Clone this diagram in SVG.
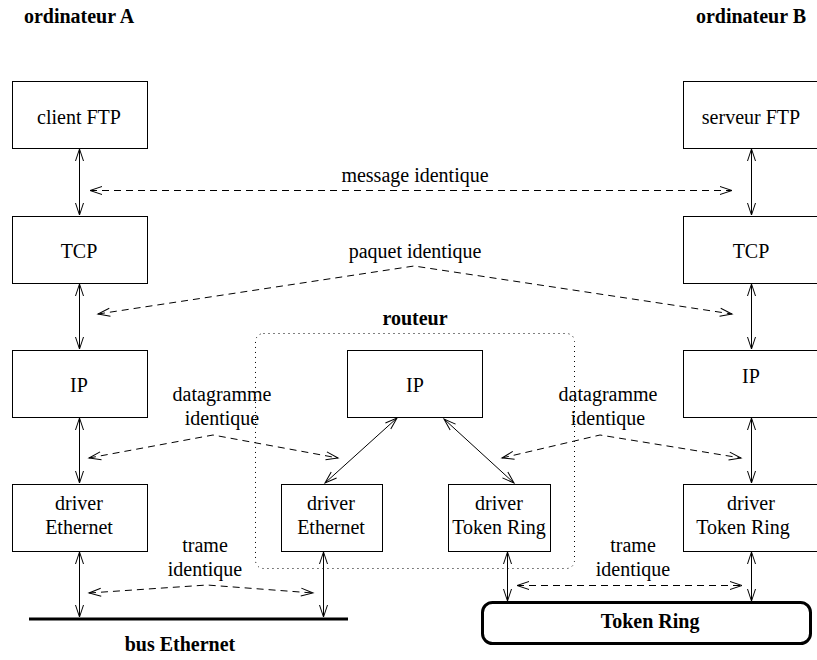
<svg xmlns="http://www.w3.org/2000/svg" width="817" height="660" viewBox="0 0 817 660">
<style>
.box{fill:#fff;stroke:#000;stroke-width:1}
.t{font-family:"Liberation Serif","Times New Roman",serif;font-size:20px;fill:#000;text-anchor:middle}
.b{font-weight:bold}
.ln{fill:none;stroke:#000;stroke-width:1}
.da{fill:none;stroke:#000;stroke-width:1;stroke-dasharray:7 5}
</style>
<defs>
<marker id="ah" markerUnits="userSpaceOnUse" markerWidth="16" markerHeight="10" refX="13" refY="4" orient="auto-start-reverse" overflow="visible">
<path d="M1,0 L13,4 L1,8" fill="none" stroke="#000" stroke-width="1"/>
</marker>
</defs>

<text class="t b" x="79" y="23">ordinateur A</text>
<text class="t b" x="751" y="23">ordinateur B</text>

<g id="router-frame">
<rect x="255.5" y="333.5" width="319" height="235" rx="8" fill="none" stroke="#000" stroke-width="1" stroke-dasharray="1 4"/>
<text class="t b" x="415" y="325">routeur</text>
</g>

<g id="clientFTP"><rect class="box" x="12.5" y="81.5" width="135" height="67"/><text class="t" x="79" y="124">client FTP</text></g>
<g id="tcpA"><rect class="box" x="12.5" y="216.5" width="135" height="67"/><text class="t" x="79" y="258">TCP</text></g>
<g id="ipA"><rect class="box" x="12.5" y="350.5" width="135" height="67"/><text class="t" x="79" y="392">IP</text></g>
<g id="ethA"><rect class="box" x="12.5" y="484.5" width="135" height="67"/><text class="t" x="79" y="510">driver</text><text class="t" x="79" y="534">Ethernet</text></g>

<g id="ipR"><rect class="box" x="347.5" y="350.5" width="135" height="67"/><text class="t" x="415" y="392">IP</text></g>
<g id="ethR"><rect class="box" x="281.5" y="484.5" width="101" height="67"/><text class="t" x="331" y="510">driver</text><text class="t" x="331" y="534">Ethernet</text></g>
<g id="trR"><rect class="box" x="448.5" y="484.5" width="102" height="67"/><text class="t" x="499" y="510">driver</text><text class="t" x="499" y="534">Token Ring</text></g>

<g id="serveurFTP"><rect class="box" x="683.5" y="81.5" width="135" height="67"/><text class="t" x="751" y="124">serveur FTP</text></g>
<g id="tcpB"><rect class="box" x="683.5" y="216.5" width="135" height="67"/><text class="t" x="751" y="258">TCP</text></g>
<g id="ipB"><rect class="box" x="683.5" y="350.5" width="135" height="67"/><text class="t" x="751" y="383">IP</text></g>
<g id="trB"><rect class="box" x="683.5" y="484.5" width="135" height="67"/><text class="t" x="751" y="510">driver</text><text class="t" x="743" y="534">Token Ring</text></g>

<g id="busEthernet"><line x1="29" y1="619" x2="348" y2="619" stroke="#000" stroke-width="3"/><text class="t b" x="180" y="651">bus Ethernet</text></g>
<g id="tokenRing"><rect x="482.5" y="602.5" width="328" height="41" rx="10" fill="#fff" stroke="#000" stroke-width="3"/><text class="t b" x="650" y="628">Token Ring</text></g>

<g id="labels">
<text class="t" x="415" y="182">message identique</text>
<text class="t" x="415" y="258">paquet identique</text>
<text class="t" x="222" y="401">datagramme</text><text class="t" x="222" y="425">identique</text>
<text class="t" x="608" y="401">datagramme</text><text class="t" x="608" y="425">identique</text>
<text class="t" x="205" y="552">trame</text><text class="t" x="205" y="576">identique</text>
<text class="t" x="633" y="552">trame</text><text class="t" x="633" y="576">identique</text>
</g>

<g id="connectors">
<line class="ln" x1="79.5" y1="149" x2="79.5" y2="215" marker-start="url(#ah)" marker-end="url(#ah)"/>
<line class="ln" x1="79.5" y1="284" x2="79.5" y2="349" marker-start="url(#ah)" marker-end="url(#ah)"/>
<line class="ln" x1="79.5" y1="418" x2="79.5" y2="483" marker-start="url(#ah)" marker-end="url(#ah)"/>
<line class="ln" x1="79.5" y1="552" x2="79.5" y2="617" marker-start="url(#ah)" marker-end="url(#ah)"/>
<line class="ln" x1="751.5" y1="149" x2="751.5" y2="215" marker-start="url(#ah)" marker-end="url(#ah)"/>
<line class="ln" x1="751.5" y1="284" x2="751.5" y2="349" marker-start="url(#ah)" marker-end="url(#ah)"/>
<line class="ln" x1="751.5" y1="418" x2="751.5" y2="483" marker-start="url(#ah)" marker-end="url(#ah)"/>
<line class="ln" x1="751.5" y1="552" x2="751.5" y2="601" marker-start="url(#ah)" marker-end="url(#ah)"/>
<line class="ln" x1="323.5" y1="552" x2="323.5" y2="617" marker-start="url(#ah)" marker-end="url(#ah)"/>
<line class="ln" x1="507.5" y1="552" x2="507.5" y2="601" marker-start="url(#ah)" marker-end="url(#ah)"/>
<line class="ln" x1="397" y1="418" x2="325" y2="483" marker-start="url(#ah)" marker-end="url(#ah)"/>
<line class="ln" x1="444" y1="419" x2="514" y2="483" marker-start="url(#ah)" marker-end="url(#ah)"/>

<line class="da" x1="90" y1="190.5" x2="732" y2="190.5" marker-start="url(#ah)" marker-end="url(#ah)"/>
<polyline class="da" points="98,314 414,266 732,314" marker-start="url(#ah)" marker-end="url(#ah)"/>
<polyline class="da" points="89,458 213,435 338,458" marker-start="url(#ah)" marker-end="url(#ah)"/>
<polyline class="da" points="502,458 600,435 741,458" marker-start="url(#ah)" marker-end="url(#ah)"/>
<polyline class="da" points="89,593 207,585 313,593" marker-start="url(#ah)" marker-end="url(#ah)"/>
<line class="da" x1="517" y1="585.5" x2="742" y2="585.5" marker-start="url(#ah)" marker-end="url(#ah)"/>
</g>
</svg>
